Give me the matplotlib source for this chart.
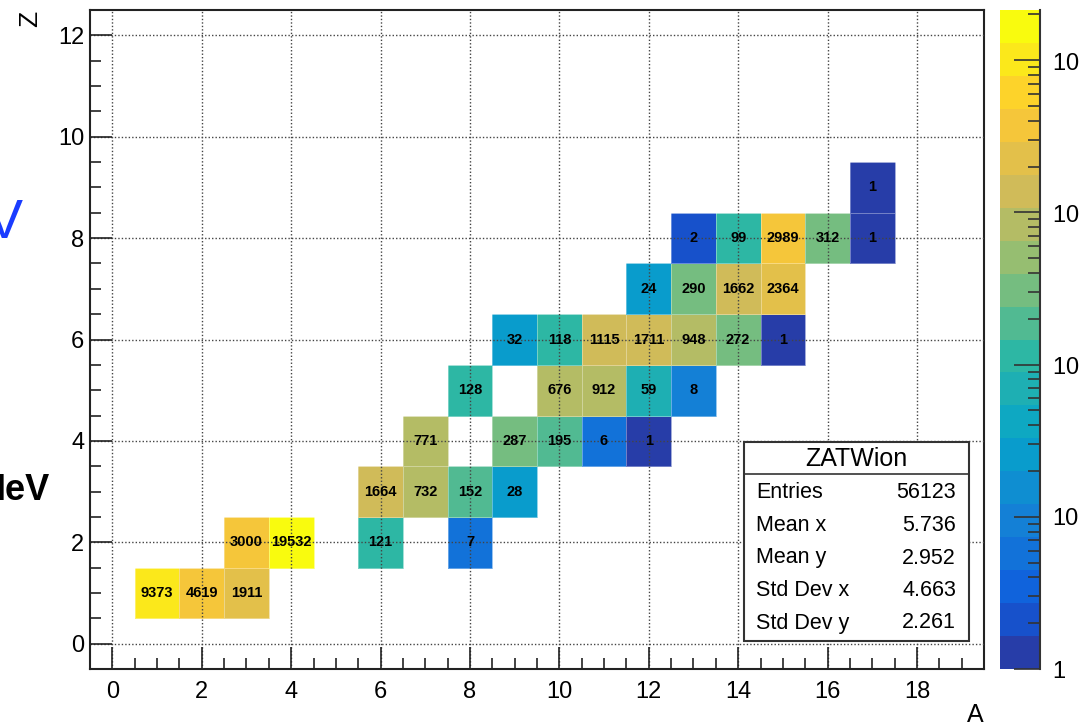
import numpy as np
import matplotlib
matplotlib.use('Agg')
from matplotlib import pyplot as plt
from matplotlib.colors import ListedColormap, LinearSegmentedColormap, LogNorm
from matplotlib.ticker import MultipleLocator, FixedLocator, NullFormatter
from matplotlib.patches import Rectangle
from matplotlib.lines import Line2D

plt.rcParams['font.family'] = ['Liberation Sans', 'DejaVu Sans']
plt.rcParams['mathtext.fontset'] = 'custom'
plt.rcParams['mathtext.rm'] = 'Liberation Sans'

# histogram content: mass number A, charge Z, counts
A = [1, 2, 3,
     3, 4, 6, 8,
     6, 7, 8, 9,
     7, 9, 10, 11, 12,
     8, 10, 11, 12, 13,
     9, 10, 11, 12, 13, 14, 15,
     12, 13, 14, 15,
     13, 14, 15, 16, 17,
     17]
Z = [1, 1, 1,
     2, 2, 2, 2,
     3, 3, 3, 3,
     4, 4, 4, 4, 4,
     5, 5, 5, 5, 5,
     6, 6, 6, 6, 6, 6, 6,
     7, 7, 7, 7,
     8, 8, 8, 8, 8,
     9]
counts = [9373, 4619, 1911,
          3000, 19532, 121, 7,
          1664, 732, 152, 28,
          771, 287, 195, 6, 1,
          128, 676, 912, 59, 8,
          32, 118, 1115, 1711, 948, 272, 1,
          24, 290, 1662, 2364,
          2, 99, 2989, 312, 1,
          1]

stat_names = ['Entries', 'Mean x', 'Mean y', 'Std Dev x', 'Std Dev y']
stat_values = ['56123', '5.736', '2.952', '4.663', '2.261']
cbar_ticks = [1, 10, 100, 1000, 10000]
cbar_labels = ['1', '10', '10$^{2}$', '10$^{3}$', '10$^{4}$']

# binning
x_edges = np.arange(-0.5, 20.0, 1.0)
y_edges = np.arange(-0.5, 13.0, 1.0)
H = np.zeros((len(y_edges) - 1, len(x_edges) - 1))
for a, z, c in zip(A, Z, counts):
    H[z, a] = c
H = np.ma.masked_equal(H, 0)

# ROOT kBird palette, 20 contour levels
stops = [0.0, 0.125, 0.25, 0.375, 0.5, 0.625, 0.75, 0.875, 1.0]
red = [0.2082, 0.0592, 0.0780, 0.0232, 0.1802, 0.5301, 0.8186, 0.9956, 0.9764]
green = [0.1664, 0.3599, 0.5041, 0.6419, 0.7178, 0.7492, 0.7328, 0.7862, 0.9832]
blue = [0.5293, 0.8684, 0.8385, 0.7914, 0.6425, 0.4662, 0.3499, 0.1968, 0.0539]
bird = LinearSegmentedColormap.from_list(
    'bird', list(zip(stops, zip(red, green, blue))))
ncont = 20
cmap = ListedColormap(bird((np.arange(ncont) + 0.99) / ncont))
norm = LogNorm(vmin=1, vmax=10 ** 4.33)

W, Hh = 1079, 728
fig = plt.figure(figsize=(W / 100, Hh / 100), dpi=100)
ax = fig.add_axes([90 / W, 59 / Hh, 894 / W, 659 / Hh])
cax = fig.add_axes([1000 / W, 59 / Hh, 40 / W, 659 / Hh])

mesh = ax.pcolormesh(x_edges, y_edges, H, cmap=cmap, norm=norm,
                     edgecolors=(1, 1, 1, 0.35), linewidth=0.6, zorder=1)
for a, z, c in zip(A, Z, counts):
    ax.text(a, z, str(c), ha='center', va='center', fontsize=10.5,
            fontweight='bold', color='black', zorder=4)

ax.set_xlim(-0.5, 19.5)
ax.set_ylim(-0.5, 12.5)
ax.xaxis.set_major_locator(MultipleLocator(2))
ax.xaxis.set_minor_locator(MultipleLocator(0.5))
ax.yaxis.set_major_locator(MultipleLocator(2))
ax.yaxis.set_minor_locator(MultipleLocator(0.5))
ax.tick_params(which='both', direction='in', top=False, right=False,
               width=1.2, color='#222222')
ax.tick_params(which='major', length=16, labelsize=17)
ax.tick_params(which='minor', length=8)
ax.tick_params(axis='x', which='major', pad=9)
ax.tick_params(axis='y', which='major', pad=4)
ax.set_axisbelow(False)
ax.grid(True, which='major', color='#444444', linestyle=(0, (1, 1.5)),
        linewidth=1.0)
for s in ax.spines.values():
    s.set_linewidth(1.5)
    s.set_color('#222222')

# colorbar
cb = fig.colorbar(mesh, cax=cax)
cb.outline.set_visible(False)
cax.add_line(Line2D([1, 1], [0, 1], transform=cax.transAxes, color='#333333',
                    linewidth=1.5, clip_on=False))
cax.yaxis.set_major_locator(FixedLocator(cbar_ticks))
cax.set_yticklabels(cbar_labels)
minor = [m * 10 ** e for e in range(0, 5) for m in range(2, 10)
         if m * 10 ** e < 10 ** 4.33]
cax.yaxis.set_minor_locator(FixedLocator(minor))
cax.yaxis.set_minor_formatter(NullFormatter())
cax.tick_params(which='both', direction='in', right=True, left=False,
                color='#333333', width=1.2)
cax.tick_params(which='major', length=19, labelsize=17, pad=9)
cax.tick_params(which='minor', length=9)

# axis titles
fig.text(30 / W, 1 - 19 / Hh, 'Z', rotation=90, ha='center', va='center',
         fontsize=19)
fig.text(984 / W, 1 - 715 / Hh, 'A', ha='right', va='center', fontsize=18)

# stats box
bx0, bx1, by0, by1 = 744, 969, 442, 641
fig.patches.append(Rectangle((bx0 / W, 1 - by1 / Hh), (bx1 - bx0) / W,
                             (by1 - by0) / Hh, transform=fig.transFigure,
                             facecolor='white', edgecolor='#333333',
                             linewidth=1.5, zorder=5))
fig.lines.append(Line2D([bx0 / W, bx1 / W], [1 - 474 / Hh, 1 - 474 / Hh],
                        transform=fig.transFigure, color='#333333',
                        linewidth=1.2, zorder=6))
fig.text((bx0 + bx1) / 2 / W, 1 - 459 / Hh, 'ZATWion', ha='center',
         va='center', fontsize=18, zorder=7)
for i, (name, val) in enumerate(zip(stat_names, stat_values)):
    yy = 1 - (493 + i * 32.5) / Hh
    fig.text(756 / W, yy, name, ha='left', va='center', fontsize=15.5,
             zorder=7)
    fig.text(956 / W, yy, val, ha='right', va='center', fontsize=15.5,
             zorder=7)

# clipped slide text on the left edge
fig.text(24 / W, 1 - 224 / Hh, 'MeV', ha='right', va='center', fontsize=40,
         color='#1a3cff', family=['Liberation Sans Narrow', 'Liberation Sans'])
fig.text(50 / W, 1 - 490 / Hh, 'MeV', ha='right', va='center', fontsize=26,
         fontweight='bold', color='black')

fig.savefig('out.png', dpi=100)
